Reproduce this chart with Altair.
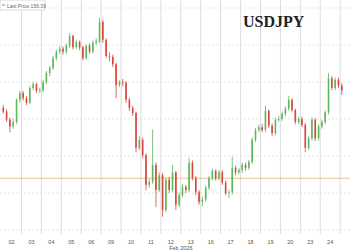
import altair as alt
import pandas as pd

# ---- data -------------------------------------------------------------
day_labels = ["02", "03", "04", "05", "06", "09", "10", "11", "12",
              "13", "16", "17", "18", "19", "20", "23", "24", "25"]
slots_per_day = 6  # 4-hour candles

first_open = 156.15
closes = [
    156.10, 155.99, 155.90, 155.96, 156.26, 156.35,   # 02
    156.28, 156.22, 156.42, 156.47, 156.38, 156.39,   # 03
    156.50, 156.62, 156.69, 156.82, 156.91, 156.95,   # 04
    156.91, 156.99, 157.12, 156.97, 157.04, 156.97,   # 05
    156.82, 156.99, 156.91, 157.03, 157.05, 157.31,   # 06
    157.07, 156.85, 156.84, 156.74, 156.46, 156.50,   # 09
    156.49, 156.26, 156.15, 156.08, 155.61, 155.72,   # 10
    155.51, 155.11, 155.15, 155.38, 155.04, 155.24,   # 11
    154.77, 155.18, 155.04, 155.28, 154.84, 154.97,   # 12
    155.08, 155.04, 155.41, 155.20, 155.01, 154.88,   # 13
    154.91, 155.07, 155.20, 155.30, 155.20, 155.28,   # 16
    155.14, 155.00, 155.01, 155.34, 155.28, 155.31,   # 17
    155.38, 155.34, 155.42, 155.72, 155.85, 155.89,   # 18
    155.85, 156.11, 155.91, 155.81, 155.99, 156.00,   # 19
    156.07, 156.14, 156.26, 156.12, 155.96, 156.00,   # 20
    155.92, 155.61, 155.74, 155.99, 155.74, 155.90,   # 23
    155.96, 156.09, 156.55, 156.42, 156.53, 156.45,   # 24
    156.39,                                           # 25
]
highs = [
    156.19, 156.13, 156.02, 156.00, 156.28, 156.38,
    156.38, 156.31, 156.45, 156.50, 156.49, 156.42,
    156.53, 156.65, 156.72, 156.85, 156.94, 156.99,
    156.98, 157.02, 157.16, 157.14, 157.07, 157.06,
    156.99, 157.01, 157.02, 157.06, 157.09, 157.37,
    157.34, 157.09, 156.90, 156.87, 156.76, 156.53,
    156.54, 156.51, 156.29, 156.18, 156.10, 155.77,
    155.75, 155.54, 155.19, 155.86, 155.41, 155.28,
    155.27, 155.21, 155.22, 155.38, 155.30, 155.01,
    155.12, 155.11, 155.47, 155.44, 155.23, 155.04,
    154.95, 155.10, 155.23, 155.33, 155.32, 155.31,
    155.31, 155.17, 155.05, 155.49, 155.37, 155.34,
    155.41, 155.41, 155.45, 155.75, 155.88, 155.92,
    155.93, 156.18, 156.13, 155.94, 156.02, 156.04,
    156.10, 156.17, 156.31, 156.28, 156.14, 156.03,
    156.03, 155.95, 155.77, 156.02, 156.01, 155.93,
    155.99, 156.12, 156.62, 156.58, 156.56, 156.56,
    156.48,
]
lows = [
    156.07, 155.96, 155.82, 155.87, 155.93, 156.22,
    156.25, 156.19, 156.20, 156.39, 156.35, 156.35,
    156.36, 156.47, 156.58, 156.66, 156.79, 156.88,
    156.87, 156.88, 156.96, 156.94, 156.94, 156.93,
    156.79, 156.80, 156.88, 156.88, 157.00, 157.02,
    157.03, 156.82, 156.78, 156.70, 156.28, 156.43,
    156.44, 156.22, 156.11, 156.04, 155.55, 155.58,
    155.47, 155.04, 155.07, 155.12, 154.81, 155.01,
    154.68, 154.74, 155.00, 155.01, 154.77, 154.81,
    154.94, 155.00, 155.01, 155.17, 154.97, 154.84,
    154.82, 154.88, 155.04, 155.17, 155.17, 155.17,
    155.11, 154.97, 154.93, 154.98, 155.24, 155.25,
    155.27, 155.30, 155.31, 155.39, 155.69, 155.82,
    155.82, 155.82, 155.88, 155.77, 155.78, 155.96,
    155.97, 156.04, 156.11, 156.09, 155.93, 155.93,
    155.89, 155.55, 155.58, 155.71, 155.70, 155.71,
    155.87, 155.93, 156.06, 156.39, 156.39, 156.42,
    156.33,
]

grid_levels = [154.5, 155.0, 155.5, 156.0, 156.5, 157.0, 157.5]
ref_level = 155.20
last_price_text = "Last Price 156.39"
month_text = "Feb 2026"
title_text = "USDJPY"

# ---- tables -----------------------------------------------------------
rows = []
prev = first_open
for i, c in enumerate(closes):
    d, s = divmod(i, slots_per_day)
    t = d + (s + 0.5) / slots_per_day
    o = prev
    rows.append({"t": t, "open": o, "close": c, "high": highs[i],
                 "low": lows[i], "dir": "up" if c >= o else "down"})
    prev = c
candles = pd.DataFrame(rows)

bounds = pd.DataFrame({"t": list(range(1, len(day_labels)))})
labels = pd.DataFrame({"t": [k + 0.5 for k in range(len(day_labels) - 1)],
                       "label": day_labels[:-1]})
levels = pd.DataFrame({"level": grid_levels})
ref = pd.DataFrame({"level": [ref_level]})
month = pd.DataFrame({"t": [9.0], "label": [month_text]})

W, H = 350, 250
xs = alt.Scale(domain=[0.1707, 17.244], nice=False, zero=False)
ys = alt.Scale(domain=[154.2297, 157.608], nice=False, zero=False)
col = alt.Color("dir:N", scale=alt.Scale(domain=["up", "down"],
                range=["#5cb85c", "#d6483d"]), legend=None)

vgrid = alt.Chart(bounds).mark_rule(color="#dcdcdc", strokeWidth=1).encode(
    x=alt.X("t:Q", scale=xs, axis=None), y=alt.value(0), y2=alt.value(234))
hgrid = alt.Chart(levels).mark_rule(color="#e2e2e2", strokeWidth=1,
                                    strokeDash=[2, 2]).encode(
    y=alt.Y("level:Q", scale=ys, axis=None))
refline = alt.Chart(ref).mark_rule(color="#f2c08a", strokeWidth=1).encode(
    y=alt.Y("level:Q", scale=ys, axis=None))
wicks = alt.Chart(candles).mark_rule(strokeWidth=0.8, clip=True).encode(
    x=alt.X("t:Q", scale=xs, axis=None),
    y=alt.Y("low:Q", scale=ys, axis=None), y2="high:Q", color=col)
bodies = alt.Chart(candles).mark_bar(size=1.6, clip=True).encode(
    x=alt.X("t:Q", scale=xs, axis=None),
    y=alt.Y("open:Q", scale=ys, axis=None), y2="close:Q", color=col)
daytext = alt.Chart(labels).mark_text(fontSize=5.5, color="#555",
                                      font="Liberation Sans").encode(
    x=alt.X("t:Q", scale=xs, axis=None), y=alt.value(242), text="label:N")
monthtext = alt.Chart(month).mark_text(fontSize=5.5, color="#555",
                                       font="Liberation Sans").encode(
    x=alt.X("t:Q", scale=xs, axis=None), y=alt.value(248), text="label:N")

legbox = alt.Chart(pd.DataFrame({"k": [0]})).mark_rect(
    fill="white", stroke="#cfcfcf", strokeWidth=0.8).encode(
    x=alt.value(0), x2=alt.value(45), y=alt.value(0), y2=alt.value(10))
legmark = alt.Chart(pd.DataFrame({"k": [0]})).mark_rule(
    color="#888", strokeWidth=1).encode(
    x=alt.value(2), x2=alt.value(5), y=alt.value(5))
legtext = alt.Chart(pd.DataFrame({"label": [last_price_text]})).mark_text(
    fontSize=5, color="#666", align="left", baseline="middle",
    font="Liberation Sans").encode(
    x=alt.value(7), y=alt.value(5.5), text="label:N")
title = alt.Chart(pd.DataFrame({"label": [title_text]})).mark_text(
    fontSize=16, fontWeight="bold", color="#222", align="left",
    baseline="alphabetic", font="Liberation Serif").encode(
    x=alt.value(243), y=alt.value(27), text="label:N")

chart = alt.layer(vgrid, hgrid, refline, wicks, bodies, daytext, monthtext,
                  legbox, legmark, legtext, title).properties(
    width=W, height=H, padding=0,
    autosize=alt.AutoSizeParams(type="none"),
    background="white",
).configure_view(stroke=None)

chart.save("out.html", embed_options={"renderer": "svg", "actions": False})
